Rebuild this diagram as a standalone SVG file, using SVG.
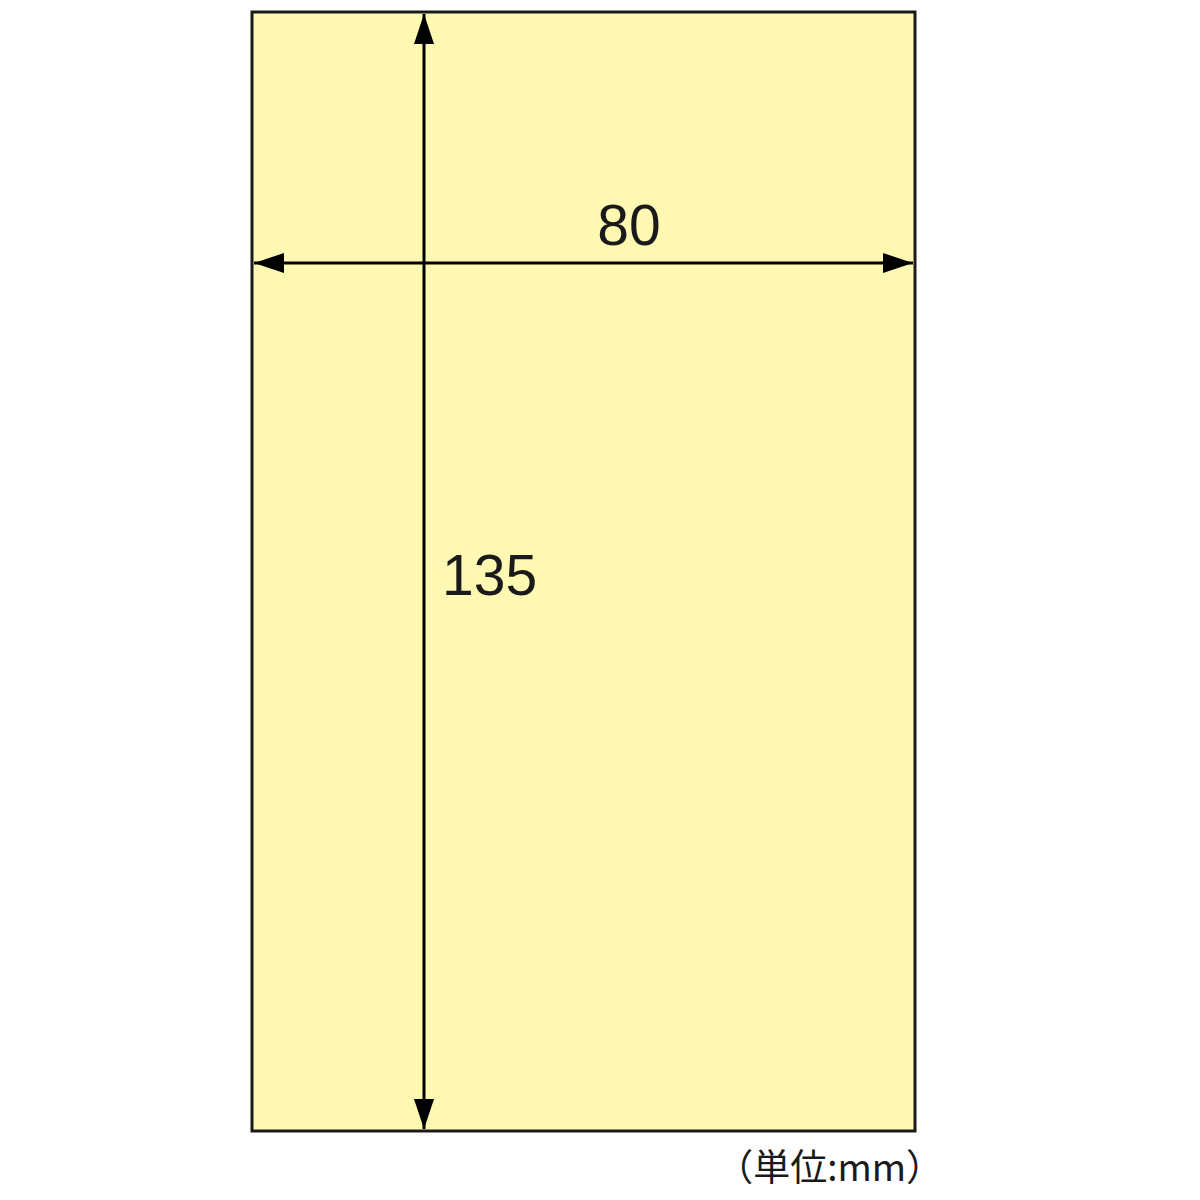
<svg xmlns="http://www.w3.org/2000/svg" width="1200" height="1200" viewBox="0 0 1200 1200">
<style>
.dim{stroke:#000;stroke-width:3;fill:none}
.lbl{font-family:"Liberation Sans",Arial,sans-serif;font-size:57px;fill:#1a1a1a}
</style>
<defs>
<marker id="ah" viewBox="0 0 30 20" refX="30" refY="10" markerWidth="30" markerHeight="20" markerUnits="userSpaceOnUse" orient="auto-start-reverse">
<path d="M0,0 L30,10 L0,20 Z" fill="#000"/>
</marker>
</defs>
<rect width="1200" height="1200" fill="#fff"/>
<g id="sheet">
<rect x="252" y="12" width="663" height="1119" fill="#FFF8B3" stroke="#1a1a1a" stroke-width="3"/>
</g>
<g id="connectors">
<line class="dim" x1="424" y1="14" x2="424" y2="1129" marker-start="url(#ah)" marker-end="url(#ah)"/>
<line class="dim" x1="254" y1="263" x2="913" y2="263" marker-start="url(#ah)" marker-end="url(#ah)"/>
</g>
<g id="labels">
<text class="lbl" x="629" y="245" text-anchor="middle">80</text>
<text class="lbl" x="442" y="595">135</text>
<text x="943" y="1181" text-anchor="end" font-family="'Noto Sans CJK JP','Liberation Sans',sans-serif" font-size="37" fill="#1a1a1a">（単位:mm）</text>
</g>
</svg>
